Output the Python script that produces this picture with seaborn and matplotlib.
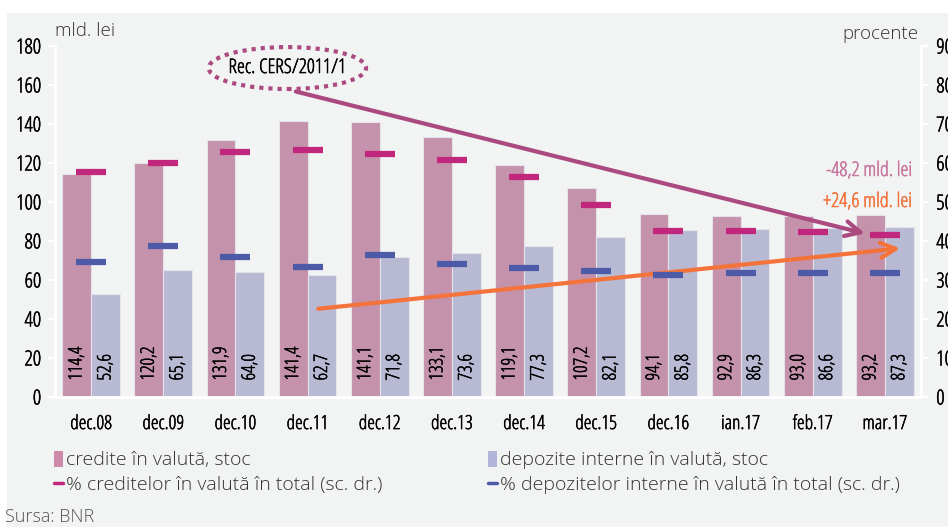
import pandas as pd
import matplotlib.pyplot as plt
import matplotlib.patheffects as pe
import seaborn as sns
from matplotlib.patches import Ellipse, Rectangle, Patch
from matplotlib.lines import Line2D
import numpy as np

# chart data
luni = ['dec.08', 'dec.09', 'dec.10', 'dec.11', 'dec.12', 'dec.13',
        'dec.14', 'dec.15', 'dec.16', 'ian.17', 'feb.17', 'mar.17']
credite = [114.4, 120.2, 131.9, 141.4, 141.1, 133.1, 119.1, 107.2, 94.1, 92.9, 93.0, 93.2]
depozite = [52.6, 65.1, 64.0, 62.7, 71.8, 73.6, 77.3, 82.1, 85.8, 86.3, 86.6, 87.3]
pct_credite = [57.7, 60.0, 62.8, 63.3, 62.3, 60.8, 56.4, 49.2, 42.6, 42.6, 42.3, 41.5]
pct_depozite = [34.6, 38.7, 35.9, 33.3, 36.4, 34.1, 33.1, 32.3, 31.3, 31.8, 31.8, 31.8]

serie_credite = 'credite în valută, stoc'
serie_depozite = 'depozite interne în valută, stoc'
serie_pct_cred = '% creditelor în valută în total (sc. dr.)'
serie_pct_dep = '% depozitelor interne în valută în total (sc. dr.)'

df = pd.DataFrame({
    'luna': luni * 2,
    'valoare': credite + depozite,
    'serie': [serie_credite] * len(luni) + [serie_depozite] * len(luni),
})

c_cred = '#cd8aab'
c_dep = '#b3b5d8'
c_pct_cred = '#c1277d'
c_pct_dep = '#4c5aa8'
c_purple = '#aa4a80'
c_orange = '#f3733b'
bg = '#f2f3f3'

sns.set_theme(style='white')
plt.rcParams['font.family'] = ['Open Sans', 'DejaVu Sans']
plt.rcParams['font.stretch'] = 'condensed'
plt.rcParams['font.weight'] = 'normal'
# wider light font for the legend and axis titles
wide = dict(fontstretch='normal', fontweight='light')


def thicken(color):
    # the condensed face is thin, a small stroke gives it a regular look
    return [pe.withStroke(linewidth=0.35, foreground=color)]


fig = plt.figure(figsize=(9.48, 5.27), dpi=100)
fig.patch.set_facecolor('white')
fig.patches.append(Rectangle((7 / 948, 0), 1, 1 - 13 / 527, transform=fig.transFigure,
                             facecolor=bg, edgecolor='none', zorder=-10))

ax = fig.add_axes([55 / 948, 1 - 397 / 527, 866 / 948, 351 / 527])
ax.set_facecolor('none')

sns.barplot(data=df, x='luna', y='valoare', hue='serie', order=luni,
            palette=[c_cred, c_dep], width=0.8, gap=0, edgecolor='#e6e2ec',
            linewidth=0.8, ax=ax, legend=False)

# value labels inside the bars
for i in range(len(luni)):
    ax.text(i - 0.2, 8.5, f'{credite[i]:.1f}'.replace('.', ','), rotation=90,
            ha='center', va='bottom', fontsize=13.5, color='black', path_effects=thicken('black'))
    ax.text(i + 0.2, 8.5, f'{depozite[i]:.1f}'.replace('.', ','), rotation=90,
            ha='center', va='bottom', fontsize=13.5, color='black', path_effects=thicken('black'))

ax.set_xlim(-0.5, len(luni) - 0.5)
ax.set_ylim(0, 180)
ax.set_yticks(range(0, 181, 20))
ax.set_xlabel('')
ax.set_ylabel('')
ax.set_xticks(np.arange(-0.5, len(luni), 1), minor=True)
ax.tick_params(axis='x', which='major', length=0, pad=13, labelsize=14, labelcolor='black')
ax.tick_params(axis='x', which='minor', length=5, width=1.5, color='white', direction='out')
ax.tick_params(axis='y', length=5, width=1.5, color='white', direction='out', labelsize=15,
               pad=5, labelcolor='black')
for s in ['top', 'right']:
    ax.spines[s].set_visible(False)
for s in ['left', 'bottom']:
    ax.spines[s].set_color('white')
    ax.spines[s].set_linewidth(2)

# right axis with percentages
ax2 = ax.twinx()
ax2.plot(range(len(luni)), pct_credite, linestyle='none', marker='_',
         markersize=22, markeredgewidth=4.5, color=c_pct_cred, zorder=3)
ax2.plot(range(len(luni)), pct_depozite, linestyle='none', marker='_',
         markersize=22, markeredgewidth=4.5, color=c_pct_dep, zorder=3)
ax2.set_ylim(0, 90)
ax2.set_yticks(range(0, 91, 10))
ax2.tick_params(axis='y', length=5, width=1.5, color='white', direction='out', labelsize=15,
                pad=6, labelcolor='black')
for s in ['top', 'left', 'bottom']:
    ax2.spines[s].set_visible(False)
ax2.spines['right'].set_color('white')
ax2.spines['right'].set_linewidth(2)
ax2.grid(False)

for lab in ax.get_xticklabels() + ax.get_yticklabels() + ax2.get_yticklabels():
    lab.set_path_effects(thicken('black'))

# arrows and annotation (left-axis data coordinates)
ax.annotate('', xy=(10.76, 83.5), xytext=(2.8, 157), zorder=6,
            arrowprops=dict(arrowstyle='->,head_length=0.9,head_width=0.45',
                            color=c_purple, lw=3))
ax.annotate('', xy=(11.25, 76.4), xytext=(3.11, 45.1), zorder=6,
            arrowprops=dict(arrowstyle='->,head_length=0.9,head_width=0.45',
                            color=c_orange, lw=3))
ax.add_patch(Ellipse((2.72, 168.7), 2.18, 21.5, fill=False, edgecolor=c_purple,
                     lw=3, linestyle=(0, (1, 1.2)), clip_on=False, zorder=6))
ax.text(2.72, 168.7, 'Rec. CERS/2011/1', ha='center', va='center', fontsize=14.5,
        color='black', zorder=7, path_effects=thicken('black'))
ax.text(11.37, 115.9, '-48,2 mld. lei', ha='right', va='center', fontsize=14.5,
        color='#c8779f', path_effects=thicken('#c8779f'))
ax.text(11.37, 100, '+24,6 mld. lei', ha='right', va='center', fontsize=14.5,
        color=c_orange, path_effects=thicken(c_orange))

fig.text(55 / 948, 1 - 31 / 527, 'mld. lei', ha='left', va='center', fontsize=13.5,
         color='#333333', **wide)
fig.text(918 / 948, 1 - 34 / 527, 'procente', ha='right', va='center', fontsize=13.5,
         color='#333333', **wide)

# legend
handles = [
    Patch(facecolor=c_cred, edgecolor='none'),
    Line2D([], [], color=c_pct_cred, lw=2.5),
    Patch(facecolor=c_dep, edgecolor='none'),
    Line2D([], [], color=c_pct_dep, lw=2.5),
]
labels = [serie_credite, serie_pct_cred, serie_depozite, serie_pct_dep]
leg = fig.legend(handles, labels, ncol=2, loc='upper left',
                 bbox_to_anchor=(36 / 948, 1 - 433 / 527), frameon=False,
                 prop={'size': 14, 'weight': 'light', 'stretch': 'normal'},
                 handlelength=0.5, handleheight=0.9,
                 handletextpad=0.15, columnspacing=5.4, labelspacing=0.3)
for t in leg.get_texts():
    t.set_color('#333333')

fig.text(5 / 948, 1 - 517 / 527, 'Sursa: BNR', ha='left', va='center', fontsize=13,
         color='#555555', **wide)

fig.savefig('out.png', dpi=100, facecolor=fig.get_facecolor())
